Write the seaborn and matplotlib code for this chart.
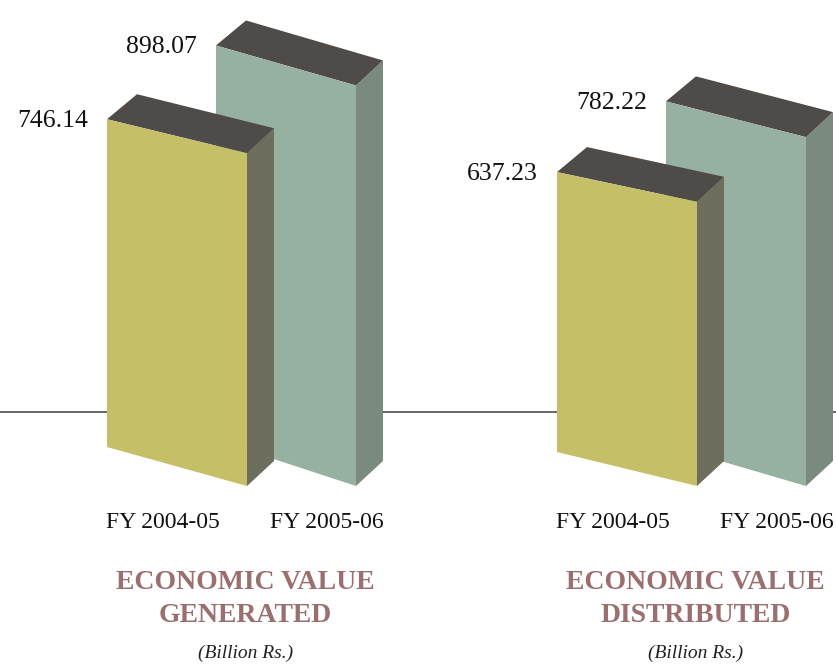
import numpy as np
import pandas as pd
import matplotlib
matplotlib.use('Agg')
import matplotlib.pyplot as plt
from matplotlib.patches import Polygon
import seaborn as sns

# data
groups = ['GENERATED', 'DISTRIBUTED']
years = ['FY 2004-05', 'FY 2005-06']
generated = [746.14, 898.07]
distributed = [637.23, 782.22]
unit = '(Billion Rs.)'

front_colors = ['#c5bf68', '#96b0a1']
side_colors = ['#6e6e5e', '#7a8a7e']
top_color = '#4f4b48'
title_color = '#9b6e70'
serif = 'Liberation Serif'

df = pd.DataFrame({
    'group': np.repeat(groups, 2),
    'year': years * 2,
    'value': generated + distributed,
})

W, H = 837, 664
fig = plt.figure(figsize=(W / 100, H / 100), dpi=100)
ax = fig.add_axes([0, 0, 1, 1])
sns.barplot(data=df, x='group', y='value', hue='year', hue_order=years,
            width=0.4844, palette=front_colors, legend=False, ax=ax)

XMIN, XMAX = -0.5144, 1.3456
YMIN, YMAX = -399.1, 1089.7
ax.set_xlim(XMIN, XMAX)
ax.set_ylim(YMIN, YMAX)
ax.axis('off')
sx = W / (XMAX - XMIN)   # pixels per x unit
sy = H / (YMAX - YMIN)   # pixels per value unit

# floor line behind the bars
ax.axhline(74 / sy, color='#5a5a5a', lw=1.3, zorder=1)

# pseudo 3d: drop of the front-left corner, depth offsets (pixels)
drop = [[39, 46], [34, 41]]
half_w = 70 / sx
dl = np.array([30 / sx, 25 / sy])
dr = np.array([27 / sx, 25 / sy])
cat_off = [-14, 41]

bars = [p for p in ax.patches]
for p in bars:
    p.set_visible(False)
    c = p.get_x() + p.get_width() / 2
    v = p.get_height()
    g = int(round(c))
    h = 0 if c < g else 1
    z = 5 if h == 0 else 3
    xl, xr = c - half_w, c + half_w
    BR = np.array([xr, 0.0])
    TR = np.array([xr, v])
    BL = np.array([xl, drop[g][h] / sy])
    TL = np.array([xl, drop[g][h] / sy + 0.985 * v])

    ax.add_patch(Polygon([TR, TR + dr, BR + dr, BR], closed=True,
                         facecolor=side_colors[h], edgecolor='none', zorder=z))
    ax.add_patch(Polygon([TL, TL + dl, TR + dr, TR], closed=True,
                         facecolor=top_color, edgecolor='none', zorder=z))
    ax.add_patch(Polygon([BL, BR, TR, TL], closed=True,
                         facecolor=front_colors[h], edgecolor='none', zorder=z + 0.5))

    ax.text(xl - 19 / sx, TL[1] - 2 / sy, f'{v:.2f}', ha='right', va='center',
            fontsize=18.5, family=serif, color='#111111')
    ax.text(c + cat_off[h] / sx, -36 / sy, years[h], ha='center', va='center',
            fontsize=17, family=serif, color='#111111')

for g, name in enumerate(groups):
    gx = g + 14 / sx
    ax.text(gx, -96 / sy, 'ECONOMIC VALUE', ha='center', va='center',
            fontsize=20, family=serif, weight='bold', color=title_color)
    ax.text(gx, -129 / sy, name, ha='center', va='center',
            fontsize=20, family=serif, weight='bold', color=title_color)
    ax.text(gx, -167 / sy, unit, ha='center', va='center',
            fontsize=14, family=serif, style='italic', color='#222222')

fig.savefig('out.png', dpi=100)
